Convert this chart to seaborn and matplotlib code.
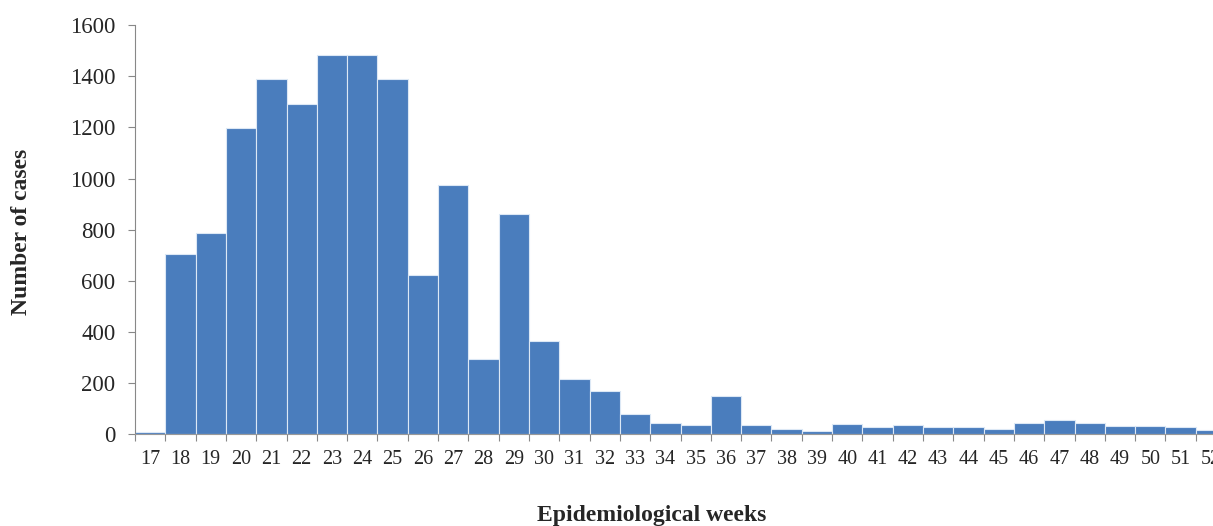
import numpy as np
import pandas as pd
import matplotlib.pyplot as plt
import seaborn as sns

# weekly case counts
weeks = [str(w) for w in range(17, 53)]
cases = [8, 704, 787, 1199, 1388, 1292, 1485, 1485, 1390, 621, 974, 296,
         860, 364, 215, 169, 78, 46, 36, 148, 36, 22, 13, 39, 27, 38, 29,
         29, 22, 46, 56, 46, 31, 31, 30, 16]

df = pd.DataFrame({'Week': weeks, 'Cases': cases})

sns.set_style('white')
plt.rcParams['font.family'] = ['Liberation Serif', 'DejaVu Serif']

fig = plt.figure(figsize=(12.13, 5.26), dpi=100)
ax = fig.add_axes([0.1113, 0.1743, 0.8995, 0.778])

sns.barplot(x='Week', y='Cases', data=df, color='#4a7dbd', saturation=1,
            width=1.0, edgecolor='#dce8f5', linewidth=0.8, ax=ax)

ax.set_xlim(-0.5, len(weeks) - 0.5)
ax.set_ylim(0, 1600)
ax.set_yticks(range(0, 1601, 200))
ax.tick_params(axis='y', labelsize=16.5, length=5, color='#888888', direction='out', left=True, pad=9)

# ticks between categories, labels centred on the bars
ax.set_xticks(np.arange(-0.5, len(weeks), 1))
ax.set_xticklabels([])
ax.set_xticks(np.arange(len(weeks)), minor=True)
ax.set_xticklabels(weeks, minor=True)
ax.tick_params(axis='x', which='major', length=5, color='#888888', direction='out', bottom=True)
ax.tick_params(axis='x', which='minor', length=0, labelsize=14.5, pad=11)

for s in ['top', 'right']:
    ax.spines[s].set_visible(False)
ax.spines['left'].set_color('#888888')
ax.spines['bottom'].set_color('#999999')

ax.set_xlabel('')
ax.set_ylabel('')
fig.text(0.018, 0.56, 'Number of cases', fontsize=17, fontweight='bold',
         rotation=90, ha='center', va='center')
fig.text(0.537, 0.01, 'Epidemiological weeks', fontsize=17, fontweight='bold', ha='center')

fig.savefig('out.png', dpi=100)
